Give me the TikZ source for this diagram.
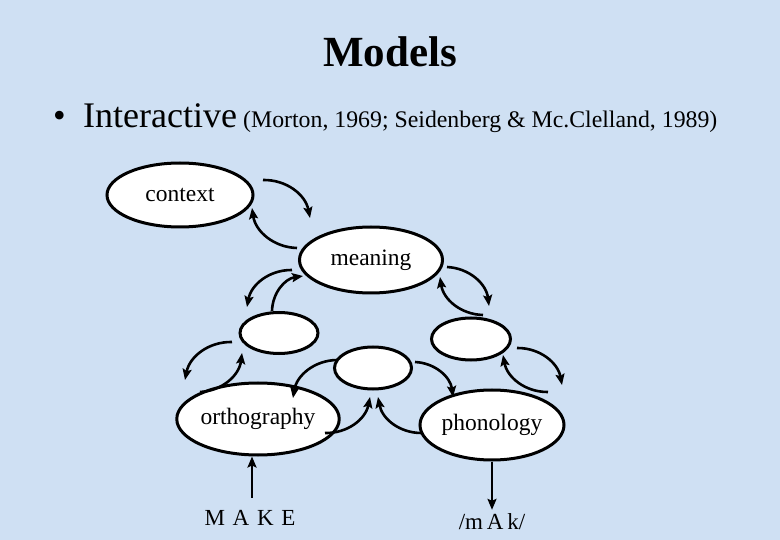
\documentclass[tikz,border=0pt]{standalone}
\usepackage{fontspec}
\setmainfont{Liberation Serif}
\usetikzlibrary{shapes.geometric,arrows.meta,calc}
\definecolor{bgblue}{RGB}{207,224,243}
\tikzset{
  oval/.style={ellipse,draw=black,line width=3pt,fill=white,inner sep=0pt,
    font=\fontsize{23.5}{26}\selectfont},
  link/.style={line width=2.6pt,-{Stealth[length=11pt,width=9pt,inset=2pt]}},
  cw/.style={link,bend left=40},
  ccw/.style={link,bend right=40},
  plain/.style={inner sep=0pt,font=\fontsize{23}{26}\selectfont}
}
\begin{document}
\begin{tikzpicture}[x=1pt,y=-1pt]
\fill[bgblue] (0,0) rectangle (780,540);
\useasboundingbox (0,0) rectangle (780,540);
% titles
\node[inner sep=0pt,anchor=base,font=\fontsize{43}{48}\selectfont\bfseries] (title) at (390,67) {Models};
\node[inner sep=0pt,anchor=base west,font=\fontsize{36}{40}\selectfont] (bul) at (53,128) {\textbullet};
\node[inner sep=0pt,anchor=base west,font=\fontsize{36}{40}\selectfont] (inter) at (83,128) {Interactive};
\node[inner sep=0pt,anchor=base west,font=\fontsize{23.8}{26}\selectfont] (cite) at (243,128) {(Morton, 1969; Seidenberg \& Mc.Clelland, 1989)};
% ovals
\node[oval,minimum width=146pt,minimum height=64pt] (context) at (180,195) {context};
\node[oval,minimum width=143pt,minimum height=66pt] (meaning) at (371,260) {meaning};
\node[oval,minimum width=78pt,minimum height=41pt] (lb) at (279,333) {};
\node[oval,minimum width=79pt,minimum height=42pt] (rb) at (471,339) {};
\node[oval,minimum width=77pt,minimum height=42pt] (mb) at (373,368) {};
\node[oval,minimum width=144pt,minimum height=72pt] (orth) at (258,419) {orthography};
\node[oval,minimum width=144pt,minimum height=70pt] (phon) at (492,425) {phonology};
\node[plain,anchor=base] (make) at (250,525) {M\,\,A\,\,K\,\,E};
\node[plain,anchor=base] (mak) at (492,529) {/m\,A\,k/};
% straight arrows
\draw[link] ([shift={(2,-12)}]make.north) -- ([xshift=-6pt]orth.south);
\draw[link] (phon.south) -- ([yshift=3pt]mak.north -| phon.south);
% curved arrows
\draw[cw]  ([shift={(83,-15)}]context.center) to ([shift={(-61,-42)}]meaning.center);
\draw[cw]  ([shift={(-74,-12)}]meaning.center) to ([shift={(72,13)}]context.center);
\draw[ccw] ([shift={(-79,10)}]meaning.center) to ([shift={(-32,-26)}]lb.center);
\draw[cw]  ([shift={(-7,-22)}]lb.center) to ([shift={(-68,16)}]meaning.center);
\draw[cw]  ([shift={(76,7)}]meaning.center) to ([shift={(18,-33)}]rb.center);
\draw[cw]  ([shift={(12,-24)}]rb.center) to ([shift={(69,17)}]meaning.center);
\draw[ccw] ([shift={(-47,9)}]lb.center) to ([shift={(-73,-39)}]orth.center);
\draw[ccw] ([shift={(-58,-27)}]orth.center) to ([shift={(-37,20)}]lb.center);
\draw[ccw] ([shift={(-36,-8)}]mb.center) to ([shift={(35,-21)}]orth.center);
\draw[ccw] ([shift={(67,14)}]orth.center) to ([shift={(-3,29)}]mb.center);
\draw[cw]  ([shift={(-70,8)}]phon.center) to ([shift={(5,29)}]mb.center);
\draw[cw]  ([shift={(42,-6)}]mb.center) to ([shift={(-39,-28)}]phon.center);
\draw[cw]  ([shift={(46,9)}]rb.center) to ([shift={(70,-40)}]phon.center);
\draw[cw]  ([shift={(56,-33)}]phon.center) to ([shift={(32,16)}]rb.center);
\end{tikzpicture}
\end{document}
